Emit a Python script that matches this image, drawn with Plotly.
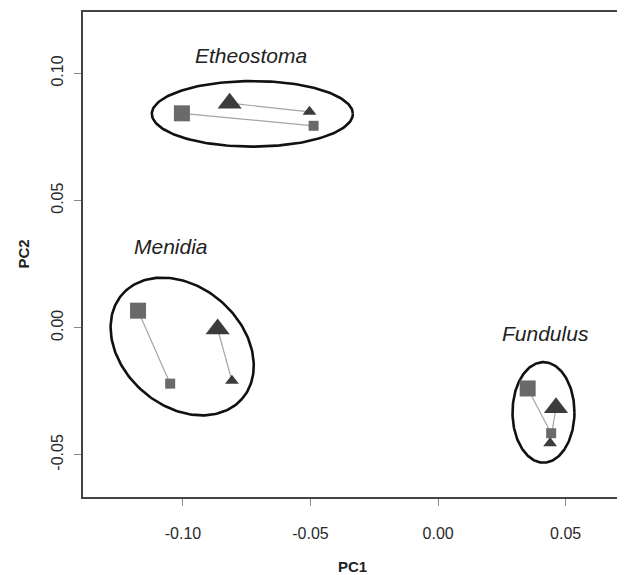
import numpy as np
import plotly.graph_objects as go

# ---- data ----
groups = ["Etheostoma", "Menidia", "Fundulus"]
sq_big_x = [-0.1004, -0.1176, 0.0351]
sq_big_y = [0.0843, 0.0067, -0.0239]
sq_small_x = [-0.0488, -0.1050, 0.0443]
sq_small_y = [0.0794, -0.0220, -0.0415]
tri_big_x = [-0.0817, -0.0864, 0.0462]
tri_big_y = [0.0883, -0.0005, -0.0315]
tri_small_x = [-0.0504, -0.0808, 0.0439]
tri_small_y = [0.0849, -0.0209, -0.0454]

ell_cx = [-0.0728, -0.1003, 0.0413]
ell_cy = [0.0841, -0.0074, -0.0333]
ell_a = [0.0394, 0.0312, 0.01214]
ell_b = [0.0129, 0.0234, 0.01977]
ell_angle = [0.0, -41.4, 0.0]

label_x = [-0.0734, -0.1046, 0.0419]
label_y = [0.1069, 0.0318, -0.0024]

x_ticks = [-0.10, -0.05, 0.00, 0.05]
x_tick_text = ["-0.10", "-0.05", "0.00", "0.05"]
y_ticks = [-0.05, 0.00, 0.05, 0.10]
y_tick_text = ["-0.05", "0.00", "0.05", "0.10"]

FONT = "Liberation Sans, Arial, sans-serif"
SQ_COLOR = "#6a6a6a"
TRI_COLOR = "#3c3c3c"
LINK_COLOR = "#a5a5a5"

fig = go.Figure()

# ellipses
t = np.linspace(0, 2 * np.pi, 200)
for cx, cy, a, b, ang in zip(ell_cx, ell_cy, ell_a, ell_b, ell_angle):
    th = np.deg2rad(ang)
    ex = cx + a * np.cos(t) * np.cos(th) - b * np.sin(t) * np.sin(th)
    ey = cy + a * np.cos(t) * np.sin(th) + b * np.sin(t) * np.cos(th)
    fig.add_trace(go.Scatter(x=ex, y=ey, mode="lines",
                             line=dict(color="#111111", width=2.6),
                             hoverinfo="skip", showlegend=False))

# connecting lines
for i in range(len(groups)):
    fig.add_trace(go.Scatter(x=[sq_big_x[i], sq_small_x[i]], y=[sq_big_y[i], sq_small_y[i]],
                             mode="lines", line=dict(color=LINK_COLOR, width=1.2),
                             hoverinfo="skip", showlegend=False))
    fig.add_trace(go.Scatter(x=[tri_big_x[i], tri_small_x[i]], y=[tri_big_y[i], tri_small_y[i]],
                             mode="lines", line=dict(color=LINK_COLOR, width=1.2),
                             hoverinfo="skip", showlegend=False))

# markers
fig.add_trace(go.Scatter(x=sq_big_x, y=sq_big_y, mode="markers",
                         marker=dict(symbol="square", size=16, color=SQ_COLOR, line=dict(width=0)),
                         showlegend=False))
fig.add_trace(go.Scatter(x=sq_small_x, y=sq_small_y, mode="markers",
                         marker=dict(symbol="square", size=10, color=SQ_COLOR, line=dict(width=0)),
                         showlegend=False))
fig.add_trace(go.Scatter(x=tri_big_x, y=tri_big_y, mode="markers",
                         marker=dict(symbol="triangle-up", size=21, color=TRI_COLOR, line=dict(width=0)),
                         showlegend=False))
fig.add_trace(go.Scatter(x=tri_small_x, y=tri_small_y, mode="markers",
                         marker=dict(symbol="triangle-up", size=12, color=TRI_COLOR, line=dict(width=0)),
                         showlegend=False))

# group labels
for name, lx, ly in zip(groups, label_x, label_y):
    fig.add_annotation(x=lx, y=ly, text="<i>" + name + "</i>", showarrow=False,
                       font=dict(family=FONT, size=21, color="#222222"),
                       xanchor="center", yanchor="middle")

# axis titles
fig.add_annotation(xref="paper", yref="paper", x=0.5, y=0, yshift=-69,
                   text="<b>PC1</b>", showarrow=False, xanchor="center", yanchor="middle",
                   font=dict(family=FONT, size=15, color="#222222"))
fig.add_annotation(xref="paper", yref="paper", x=0, y=0.5, xshift=-60,
                   text="<b>PC2</b>", showarrow=False, textangle=-90,
                   xanchor="center", yanchor="middle",
                   font=dict(family=FONT, size=15, color="#222222"))

# faint right border
fig.add_shape(type="line", xref="paper", yref="paper", x0=1, x1=1, y0=0, y1=1,
              line=dict(color="#d8d8d8", width=1))

fig.update_xaxes(range=[-0.13917, 0.07168], tickvals=x_ticks, ticktext=x_tick_text,
                 showgrid=False, zeroline=False, showline=True, linecolor="#444444",
                 linewidth=2.2, mirror=True, ticks="outside", ticklen=7, tickwidth=1,
                 tickcolor="#888888", ticklabelstandoff=14,
                 tickfont=dict(family=FONT, size=16, color="#2a2a2a"))
fig.update_yaxes(range=[-0.06658, 0.12415], tickvals=y_ticks, ticktext=y_tick_text,
                 showgrid=False, zeroline=False, showline=True, linecolor="#444444",
                 linewidth=2.2, mirror=False, ticks="outside", ticklen=7, tickwidth=1,
                 tickcolor="#888888", tickangle=-90, ticklabelstandoff=5,
                 tickfont=dict(family=FONT, size=16, color="#2a2a2a"))

# page has an 8px body margin, so the figure is sized to fit the 625x575 window
fig.update_layout(width=617, height=567, autosize=False,
                  margin=dict(l=75, r=4, t=2, b=78),
                  plot_bgcolor="white", paper_bgcolor="white",
                  showlegend=False)

fig.write_html("out.html")
